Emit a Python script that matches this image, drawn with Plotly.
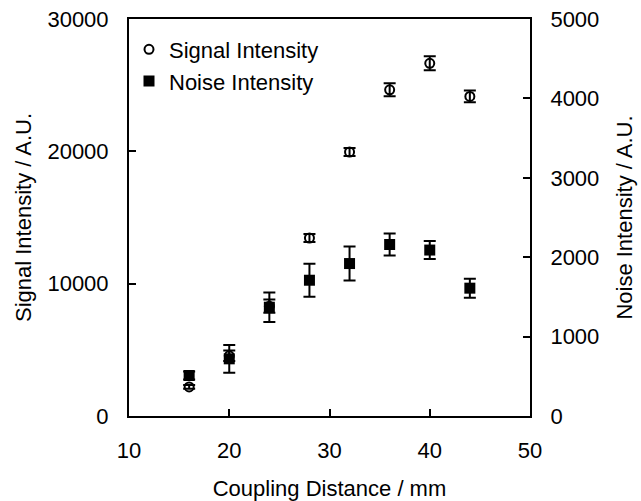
import plotly.graph_objects as go

distance = [16, 20, 24, 28, 32, 36, 40, 44]
signal = [2200, 4550, 8300, 13450, 19950, 24650, 26650, 24150]
signal_err = [150, 400, 500, 300, 300, 490, 530, 450]
noise = [510, 720, 1370, 1710, 1920, 2160, 2090, 1610]
noise_err = [50, 175, 185, 208, 214, 138, 113, 120]

FONT = "Liberation Sans, Arial, sans-serif"

fig = go.Figure()
fig.add_trace(go.Scatter(
    x=distance, y=signal, mode="markers", name="Signal Intensity",
    marker=dict(symbol="circle-open", size=9, color="black", line=dict(width=2)),
    error_y=dict(type="data", array=signal_err, color="black", thickness=2, width=6),
))
fig.add_trace(go.Scatter(
    x=distance, y=noise, mode="markers", name="Noise Intensity", yaxis="y2",
    marker=dict(symbol="square", size=11, color="black"),
    error_y=dict(type="data", array=noise_err, color="black", thickness=2, width=6),
))

axis_common = dict(showline=True, linecolor="black", linewidth=2, ticks="inside",
                   ticklen=7, tickwidth=2, tickcolor="black", showgrid=False, zeroline=False,
                   tickformat="d", automargin=False,
                   tickfont=dict(family=FONT, size=22, color="black"),
                   title_font=dict(family=FONT, size=22, color="black"))

fig.update_layout(
    width=641, height=501,
    margin=dict(l=129, r=111, t=19, b=85),
    paper_bgcolor="white", plot_bgcolor="white",
    showlegend=True,
    legend=dict(x=0.0, y=0.976, xanchor="left", yanchor="top", bgcolor="rgba(0,0,0,0)",
                font=dict(family=FONT, size=22, color="black"), itemsizing="trace",
                tracegroupgap=0),
    xaxis=dict(range=[10, 50], tickvals=[10, 20, 30, 40, 50], mirror=True,
               title=dict(text="Coupling Distance / mm", standoff=18), ticklabelstandoff=14,
               **axis_common),
    yaxis=dict(range=[0, 30000], tickvals=[0, 10000, 20000, 30000],
               title=dict(text="Signal Intensity / A.U.", standoff=10), ticklabelstandoff=14,
               **axis_common),
    yaxis2=dict(range=[0, 5000], tickvals=[0, 1000, 2000, 3000, 4000, 5000], overlaying="y",
                side="right", title=dict(text="Noise Intensity / A.U.", standoff=18),
                ticklabelstandoff=14, **axis_common),
)

fig.write_html("out.html", config={"displayModeBar": False},
               post_script="document.body.style.margin='0';")
